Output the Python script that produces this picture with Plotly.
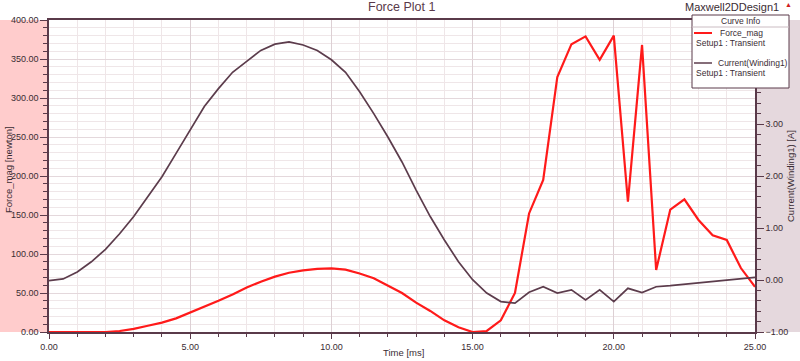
import plotly.graph_objects as go

# ---------------- data ----------------
time_force = [0.0, 0.5, 1.0, 1.5, 2.0, 2.5, 3.0, 3.5, 4.0, 4.5, 5.0, 5.5, 6.0, 6.5, 7.0, 7.5,
              8.0, 8.5, 9.0, 9.5, 10.0, 10.5, 11.0, 11.5, 12.0, 12.5, 13.0, 13.5, 14.0, 14.5,
              15.0, 15.5, 16.0, 16.5, 17.0, 17.5, 18.0, 18.5, 19.0, 19.5, 20.0, 20.5, 21.0,
              21.5, 22.0, 22.5, 23.0, 23.5, 24.0, 24.5, 25.0]
force_mag = [0, 0, 0, 0, 0, 1.3, 4, 8, 12, 17.5, 25, 31.6, 40, 48, 57, 64.5,
             71, 76, 79, 81, 81.6, 80, 75, 69, 60, 50, 37.6, 27, 15, 6,
             0, 1.3, 15, 50, 152, 195, 327, 369, 379, 349, 380, 167, 368,
             79.5, 157, 170, 143.6, 124, 118, 82, 58]

time_current = [0.0, 0.5, 1.0, 1.5, 2.0, 2.5, 3.0, 3.5, 4.0, 4.5, 5.0, 5.5, 6.0, 6.5, 7.0, 7.5,
                8.0, 8.5, 9.0, 9.5, 10.0, 10.5, 11.0, 11.5, 12.0, 12.5, 13.0, 13.5, 14.0, 14.5,
                15.0, 15.5, 16.0, 16.5, 17.0, 17.5, 18.0, 18.5, 19.0, 19.5, 20.0, 20.5, 21.0,
                21.5, 22.0, 23.0, 24.0, 25.0]
current_winding1 = [-0.013, 0.02, 0.155, 0.35, 0.59, 0.89, 1.22, 1.595, 1.985, 2.435, 2.885, 3.335,
                    3.68, 3.995, 4.205, 4.415, 4.535, 4.58, 4.52, 4.415, 4.235, 3.995, 3.62, 3.20,
                    2.75, 2.27, 1.73, 1.22, 0.77, 0.35, 0.005, -0.25, -0.415, -0.445, -0.235,
                    -0.13, -0.25, -0.19, -0.385, -0.19, -0.415, -0.16, -0.24, -0.13, -0.11,
                    -0.06, -0.01, 0.05]

x_ticks = [0, 5, 10, 15, 20, 25]
y_left_ticks = [0, 50, 100, 150, 200, 250, 300, 350, 400]
y_right_ticks = [-1, 0, 1, 2, 3]

# ---------------- geometry helpers ----------------
W, H = 800, 361
ML, MR, MT, MB = 49, 45, 20, 29
PW, PH = W - ML - MR, H - MT - MB


def px(x):
    return (x - ML) / PW


def py(y):
    return (H - MB - y) / PH


DARK = "#5a3a4a"
TXT = "#3a2c33"
FONT = "Liberation Sans, Arial, sans-serif"

fig = go.Figure()
fig.add_trace(go.Scatter(x=time_force, y=force_mag, mode="lines", name="Force_mag",
                         line=dict(color="#ff1a1a", width=2.2), yaxis="y"))
fig.add_trace(go.Scatter(x=time_current, y=current_winding1, mode="lines", name="Current(Winding1)",
                         line=dict(color="#5c3c4c", width=1.7), yaxis="y2"))

shapes = [
    # left pink band
    dict(type="rect", xref="paper", yref="paper", x0=px(0), x1=px(48), y0=0, y1=1,
         fillcolor="#ffcccc", line=dict(width=0), layer="below"),
    # right grey-pink band
    dict(type="rect", xref="paper", yref="paper", x0=px(757), x1=px(800), y0=0, y1=1,
         fillcolor="#e5d8dd", line=dict(width=0), layer="below"),
    # legend box
    dict(type="rect", xref="paper", yref="paper", x0=px(692), x1=px(789), y0=py(88), y1=py(15),
         fillcolor="white", line=dict(color=DARK, width=1), layer="above"),
    dict(type="line", xref="paper", yref="paper", x0=px(692), x1=px(789), y0=py(27), y1=py(27),
         line=dict(color="#cbbcc2", width=1), layer="above"),
    dict(type="line", xref="paper", yref="paper", x0=px(694), x1=px(712), y0=py(33), y1=py(33),
         line=dict(color="#ff1a1a", width=2), layer="above"),
    dict(type="line", xref="paper", yref="paper", x0=px(694), x1=px(712), y0=py(63), y1=py(63),
         line=dict(color="#5c3c4c", width=1.5), layer="above"),
]

ann = [
    dict(text="Force Plot 1", x=px(401), y=py(7), font=dict(size=12.5, color=DARK)),
    dict(text="Maxwell2DDesign1", x=px(732), y=py(7), font=dict(size=11, color=TXT)),
    dict(text="▲", x=px(788), y=py(5), font=dict(size=7, color="#d02020")),
    dict(text="Curve Info", x=px(740), y=py(21), font=dict(size=8.5, color=TXT)),
    dict(text="Force_mag", x=px(718), y=py(33), xanchor="left", font=dict(size=8.5, color=TXT)),
    dict(text="Setup1 : Transient", x=px(694), y=py(43), xanchor="left", font=dict(size=8.5, color=TXT)),
    dict(text="Current(Winding1)", x=px(716), y=py(63), xanchor="left", font=dict(size=8.5, color=TXT)),
    dict(text="Setup1 : Transient", x=px(694), y=py(73), xanchor="left", font=dict(size=8.5, color=TXT)),
    dict(text="Force_mag [newton]", x=px(8), y=py(170), textangle=-90, font=dict(size=9.5, color=TXT)),
    dict(text="Current(Winding1) [A]", x=px(790), y=py(176), textangle=-90, font=dict(size=9.5, color=TXT)),
    dict(text="Time [ms]", x=px(403), y=py(352), font=dict(size=9.5, color=TXT)),
]
for a in ann:
    a.update(xref="paper", yref="paper", showarrow=False)
    a.setdefault("xanchor", "center")
    a.setdefault("yanchor", "middle")

fig.update_layout(
    width=W, height=H,
    margin=dict(l=ML, r=MR, t=MT, b=MB, pad=0),
    paper_bgcolor="white", plot_bgcolor="white",
    showlegend=False,
    font=dict(family=FONT, size=9, color=TXT),
    shapes=shapes, annotations=ann,
    xaxis=dict(range=[0, 25], tickvals=x_ticks, tickformat=".2f", ticks="outside", ticklen=5,
               tickcolor=DARK, showline=True, linecolor=DARK, linewidth=1.5, mirror=True,
               showgrid=True, gridcolor="#ddd0d4", gridwidth=1, zeroline=False,
               tickfont=dict(size=9, color=TXT), automargin=False,
               minor=dict(dtick=1, ticks="outside", ticklen=3, tickcolor=DARK,
                          showgrid=True, gridcolor="#efe6e8")),
    yaxis=dict(range=[0, 400], tickvals=y_left_ticks, tickformat=".2f", ticks="outside", ticklen=7,
               tickcolor=DARK, showline=True, linecolor=DARK, linewidth=1.5,
               showgrid=True, gridcolor="#e4d8dc", zeroline=False,
               tickfont=dict(size=9, color=TXT), automargin=False,
               minor=dict(dtick=10, ticks="outside", ticklen=4, tickcolor=DARK,
                          showgrid=True, gridcolor="#efe6e8")),
    yaxis2=dict(range=[-1, 5], overlaying="y", side="right", tickvals=y_right_ticks,
                tickformat=".2f", ticks="outside", ticklen=7, tickcolor=DARK,
                showline=True, linecolor=DARK, linewidth=1.5, showgrid=False, zeroline=False,
                tickfont=dict(size=9, color=TXT), automargin=False,
                minor=dict(dtick=0.2, ticks="outside", ticklen=4, tickcolor=DARK, showgrid=False)),
)

fig.write_html("out.html", config={"displayModeBar": False},
               post_script="document.body.style.margin='0';document.body.style.overflow='hidden';")
